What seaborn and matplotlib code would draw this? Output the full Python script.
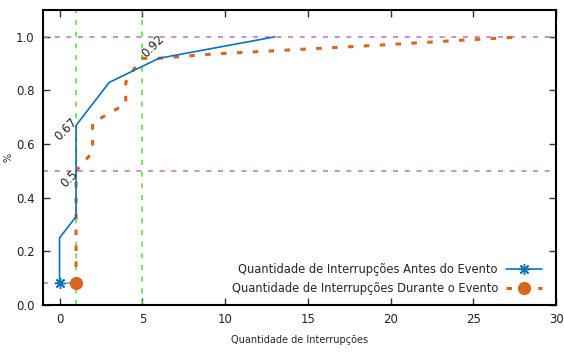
import matplotlib
matplotlib.use("Agg")
import matplotlib.pyplot as plt
from matplotlib.lines import Line2D
import seaborn as sns
import pandas as pd

# Cumulative share of interruptions (before / during the event)
antes_x = [0, 0, 1, 1, 3, 6, 13]
antes_y = [0.083, 0.25, 0.33, 0.67, 0.83, 0.92, 1.0]

durante_x = [1, 1, 1.85, 2, 2, 4, 4, 4.6, 5, 6, 9, 19, 25, 28]
durante_y = [0.083, 0.5, 0.56, 0.58, 0.68, 0.75, 0.83, 0.89, 0.92, 0.92, 0.935, 0.968, 0.99, 1.0]

ref_y = [0.5, 1.0]
ref_x = [1, 5]

labels = ["0.67", "0.5", "0.92"]
label_pos = [(0.37, 0.655), (0.6, 0.47), (5.65, 0.965)]

serie_antes = "Quantidade de Interrupções Antes do Evento"
serie_durante = "Quantidade de Interrupções Durante o Evento"

blue = "#0a72bd"
orange = "#d9651e"
purple = "#c07cc8"
green = "#66dd4a"

sns.set_style("ticks")
plt.rcParams["font.family"] = ["DejaVu Sans"]

fig = plt.figure(figsize=(5.64, 3.52), dpi=100)
ax = fig.add_axes([0.0762, 0.1335, 0.910, 0.838])

df_a = pd.DataFrame({"x": antes_x, "y": antes_y})
df_d = pd.DataFrame({"x": durante_x, "y": durante_y})

# reference lines
for yv in ref_y:
    ax.axhline(yv, color=purple, lw=1.2, dashes=(3, 4), zorder=1)
for xv in ref_x:
    ax.axvline(xv, color=green, lw=1.2, dashes=(3, 4), zorder=1)
ax.plot([-1, 1], [antes_y[0], antes_y[0]], color=purple, lw=1.2, dashes=(3, 4), zorder=1)

sns.lineplot(data=df_a, x="x", y="y", ax=ax, sort=False, estimator=None,
             color=blue, lw=1.2, marker=(8, 2, 0), markersize=8, markeredgewidth=1.0,
             markeredgecolor=blue, markevery=[0], zorder=3)
sns.lineplot(data=df_d, x="x", y="y", ax=ax, sort=False, estimator=None,
             color=orange, lw=2.2, dashes=False, marker="o", markersize=9.5,
             markeredgewidth=0, markevery=[0], zorder=2)
ax.lines[-1].set_dashes((1.8, 3.4))

for txt, (tx, ty) in zip(labels, label_pos):
    ax.text(tx, ty, txt, rotation=45, ha="center", va="center", fontsize=8.5,
            color="#222222", zorder=4)

ax.set_xlim(-1, 30)
ax.set_ylim(0, 1.1)
ax.set_xticks(range(0, 31, 5))
ax.set_yticks([0, 0.2, 0.4, 0.6, 0.8, 1.0])
ax.set_yticklabels([f"{v:.1f}" for v in [0, 0.2, 0.4, 0.6, 0.8, 1.0]])
ax.tick_params(direction="in", length=5, width=1, top=True, right=True,
               labelsize=8.5, colors="#333333", labelcolor="#222222", pad=6)
for s in ax.spines.values():
    s.set_visible(True)
    s.set_color("black")
    s.set_linewidth(1.5)

ax.set_xlabel("Quantidade de Interrupções", fontsize=7, labelpad=6)
ax.set_ylabel("%", fontsize=7)
ax.yaxis.set_label_coords(-0.057, 0.5)

handles = [
    Line2D([], [], color=blue, lw=1.2, marker=(8, 2, 0), markersize=8,
           markeredgewidth=1.0, markeredgecolor=blue),
    Line2D([], [], color=orange, lw=2.2, dashes=(1.8, 3.4), marker="o",
           markersize=9.5, markeredgewidth=0),
]
ax.legend(handles, [serie_antes, serie_durante], loc="lower right",
          bbox_to_anchor=(0.992, 0.0), frameon=False, markerfirst=False,
          numpoints=1, handlelength=3.1, handletextpad=0.7, fontsize=8.3,
          labelspacing=0.45)

fig.savefig("out.png", dpi=100)
